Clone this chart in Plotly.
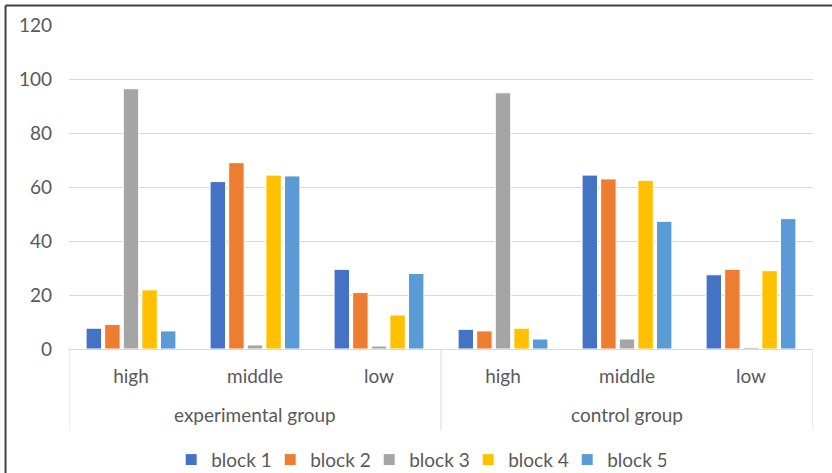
import plotly.graph_objects as go

# Achievement level within each group
groups = ["experimental group"] * 3 + ["control group"] * 3
levels = ["high", "middle", "low"] * 2

# Percentage per block, ordered as (experimental: high, middle, low, control: high, middle, low)
block_1 = [7.7, 62.0, 29.5, 7.3, 64.4, 27.5]
block_2 = [9.1, 69.0, 20.9, 6.7, 63.0, 29.5]
block_3 = [96.4, 1.5, 1.1, 94.9, 3.7, 0.6]
block_4 = [21.9, 64.4, 12.6, 7.7, 62.5, 29.0]
block_5 = [6.7, 64.1, 28.0, 3.7, 47.3, 48.3]

series_names = ["block 1", "block 2", "block 3", "block 4", "block 5"]
series_values = [block_1, block_2, block_3, block_4, block_5]
colors = ["#4472C4", "#ED7D31", "#A5A5A5", "#FFC000", "#5B9BD5"]

FONT = "Lato, Open Sans, sans-serif"
TEXT = "#595959"
GRID = "#D9D9D9"
FS = 19

# one slot per (group, level) pair along the category axis
slots = list(range(len(levels)))

fig = go.Figure()
for name, vals, col in zip(series_names, series_values, colors):
    fig.add_trace(go.Bar(
        x=slots,
        y=vals,
        name=name,
        marker=dict(color=col, line=dict(color="white", width=1)),
    ))

# group labels centred under their levels, dividers at group boundaries
annotations = []
shapes = []
group_order = list(dict.fromkeys(groups))
bounds = [-0.5]
for g in group_order:
    idx = [i for i, gg in enumerate(groups) if gg == g]
    annotations.append(dict(
        x=sum(idx) / len(idx), xref="x", y=-0.2035, yref="paper",
        text=g, showarrow=False, xanchor="center", yanchor="middle",
        font=dict(family=FONT, size=FS, color=TEXT),
    ))
    bounds.append(max(idx) + 0.5)
for b in bounds:
    shapes.append(dict(
        type="line", xref="x", yref="paper", x0=b, x1=b, y0=0, y1=-0.25,
        line=dict(color=GRID, width=1),
    ))

# chart frame along the left and top edges
shapes += [
    dict(type="line", xref="paper", yref="paper", x0=-0.0853, x1=-0.0853,
         y0=-0.5, y1=1.06, line=dict(color="#404040", width=2)),
    dict(type="line", xref="paper", yref="paper", x0=-0.0853, x1=1.03,
         y0=1.06, y1=1.06, line=dict(color="#404040", width=2)),
]

fig.update_layout(
    width=832,
    height=473,
    barmode="group",
    bargap=0.25,
    bargroupgap=0.17,
    plot_bgcolor="white",
    paper_bgcolor="white",
    margin=dict(l=69, r=19, t=25, b=124, autoexpand=False),
    font=dict(family=FONT, size=FS, color=TEXT),
    showlegend=True,
    legend=dict(
        orientation="h",
        x=0.47,
        xanchor="center",
        yref="container",
        y=0.028,
        yanchor="middle",
        font=dict(family=FONT, size=FS, color=TEXT),
        itemwidth=30,
        entrywidth=54,
        traceorder="normal",
    ),
    xaxis=dict(
        range=[-0.5, len(levels) - 0.5],
        tickvals=slots,
        ticktext=levels,
        automargin=False,
        showline=True,
        linecolor=GRID,
        linewidth=1,
        showgrid=False,
        zeroline=False,
        ticks="",
        ticklabelstandoff=10,
        tickfont=dict(family=FONT, size=FS, color=TEXT),
    ),
    yaxis=dict(
        range=[0, 120],
        tickvals=[0, 20, 40, 60, 80, 100, 120],
        automargin=False,
        showgrid=True,
        gridcolor=GRID,
        gridwidth=1,
        zeroline=False,
        showline=False,
        ticks="",
        ticklabelstandoff=16,
        tickfont=dict(family=FONT, size=FS, color=TEXT),
    ),
    annotations=annotations,
    shapes=shapes,
)

fig.write_html("out.html")
